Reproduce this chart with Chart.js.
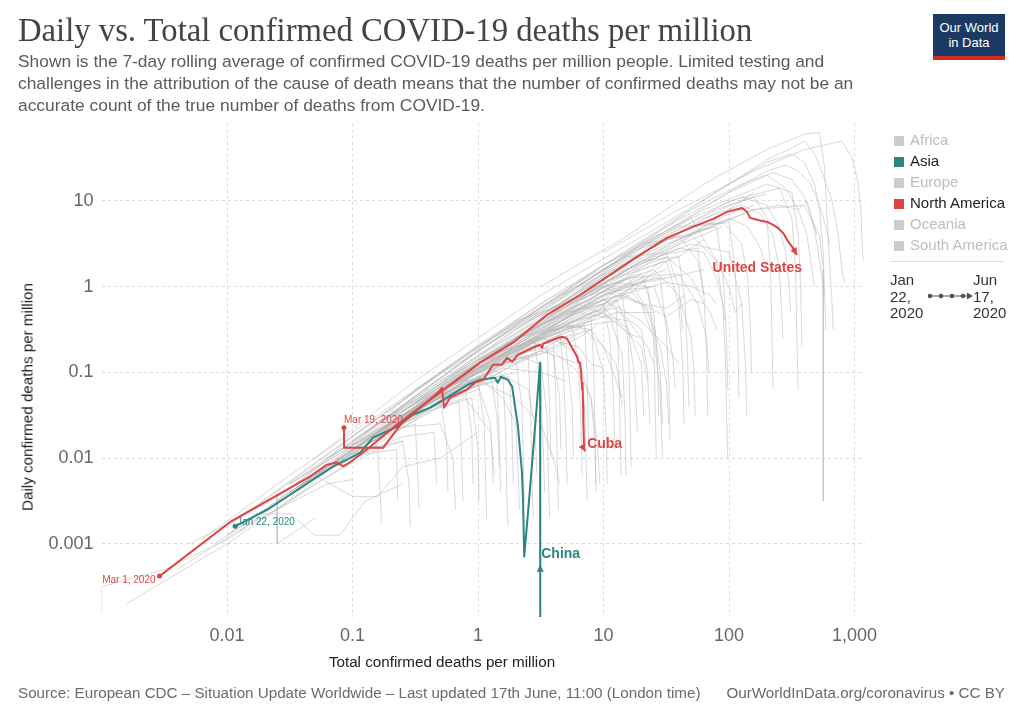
<!DOCTYPE html>
<html>
<head>
<meta charset="utf-8">
<title>Daily vs. Total confirmed COVID-19 deaths per million</title>
<script src="https://cdn.jsdelivr.net/npm/chart.js@4.4.0/dist/chart.umd.min.js"></script>
<style>
    html, body { margin: 0; padding: 0; background: #fff; }
    body { width: 1024px; height: 723px; position: relative; overflow: hidden; font-family: 'Liberation Sans', Arial, sans-serif; }
    #chart { position: absolute; left: 0; top: 0; }
    .abs { position: absolute; white-space: nowrap; }
    #title { left: 18px; top: 12px; font-family: 'Liberation Serif', serif; font-size: 32.7px; color: #444; }
    #subtitle { left: 18px; top: 50px; font-size: 17.4px; line-height: 22px; color: #5b5b5b; }
    #logo { left: 933px; top: 14px; width: 72px; height: 46px; background: #1a3a63; border-bottom: 4px solid #d42b21; box-sizing: border-box; color: #fff; font-size: 13px; line-height: 15px; text-align: center; padding-top: 6px; }
    .li { left: 894px; font-size: 15px; line-height: 18px; color: #bdbdbd; }
    .li.on { color: #222; }
    .sw { display: inline-block; width: 10px; height: 10px; margin-right: 6px; background: #ccc; vertical-align: -1px; }
    #sep { left: 890px; top: 261px; width: 114px; height: 1px; background: #ddd; }
    .tl { font-size: 15px; line-height: 16.5px; color: #333; top: 272px; }
    #xtitle { left: 0; width: 884px; top: 653px; text-align: center; font-size: 15.2px; color: #222; }
    #ytitle { left: 27px; top: 397px; font-size: 15.2px; color: #222; transform: translate(-50%, -50%) rotate(-90deg); }
    .foot { top: 684px; font-size: 15.2px; color: #6b6b6b; }
</style>
</head>
<body>
<canvas id="chart" width="1024" height="723"></canvas>

<div id="title" class="abs">Daily vs. Total confirmed COVID-19 deaths per million</div>
<div id="subtitle" class="abs">Shown is the 7-day rolling average of confirmed COVID-19 deaths per million people. Limited testing and<br>challenges in the attribution of the cause of death means that the number of confirmed deaths may not be an<br>accurate count of the true number of deaths from COVID-19.</div>
<div id="logo" class="abs">Our World<br>in Data</div>

<div class="abs li" style="top:131px"><span class="sw"></span>Africa</div>
<div class="abs li on" style="top:152px"><span class="sw" style="background:#2a8683"></span>Asia</div>
<div class="abs li" style="top:173px"><span class="sw"></span>Europe</div>
<div class="abs li on" style="top:194px"><span class="sw" style="background:#dc4545"></span>North America</div>
<div class="abs li" style="top:215px"><span class="sw"></span>Oceania</div>
<div class="abs li" style="top:236px"><span class="sw"></span>South America</div>
<div id="sep" class="abs"></div>
<div class="abs tl" style="left:890px">Jan<br>22,<br>2020</div>
<svg class="abs" style="left:926px;top:291px" width="48" height="10">
    <line x1="3" y1="5" x2="42" y2="5" stroke="#555" stroke-width="1.2"/>
    <circle cx="4" cy="5" r="2.3" fill="#555"/>
    <circle cx="15" cy="5" r="2.3" fill="#555"/>
    <circle cx="26" cy="5" r="2.3" fill="#555"/>
    <circle cx="37" cy="5" r="2.3" fill="#555"/>
    <polygon points="41,1.5 47,5 41,8.5" fill="#555"/>
</svg>
<div class="abs tl" style="left:973px">Jun<br>17,<br>2020</div>

<div id="xtitle" class="abs">Total confirmed deaths per million</div>
<div id="ytitle" class="abs">Daily confirmed deaths per million</div>

<div class="abs foot" style="left:18px">Source: European CDC – Situation Update Worldwide – Last updated 17th June, 11:00 (London time)</div>
<div class="abs foot" style="right:19px">OurWorldInData.org/coronavirus • CC BY</div>

<script>
// --- Axis ticks ---
const X_TICKS = [0.01, 0.1, 1, 10, 100, 1000];
const X_TICK_LABELS = ['0.01', '0.1', '1', '10', '100', '1,000'];
const Y_TICKS = [0.001, 0.01, 0.1, 1, 10];
const Y_TICK_LABELS = ['0.001', '0.01', '0.1', '1', '10'];

// --- Highlighted countries: [total deaths per million, daily deaths per million] ---
const US_SERIES = [
    [0.0029, 0.00042], [0.0106, 0.0018], [0.0458, 0.0061], [0.0627, 0.0084], [0.0752, 0.0089],
    [0.084, 0.0080], [0.0955, 0.0089], [0.138, 0.0136], [0.226, 0.0246], [0.303, 0.0339],
    [1.04, 0.130], [1.90, 0.222], [3.55, 0.47], [6.5, 0.80], [11.9, 1.45], [19.5, 2.35],
    [32, 3.72], [51.6, 4.99], [74.6, 6.18], [96.4, 7.46], [127, 8.3], [139, 7.46], [147, 6.35],
    [170, 6.0], [201, 5.7], [224, 5.26], [245, 4.85], [269, 4.25], [290, 3.52], [318, 2.92], [348, 2.35]
];
const CUBA_SERIES = [
    [0.0855, 0.0226], [0.0855, 0.0132], [0.175, 0.0132], [0.252, 0.0266], [0.48, 0.058],
    [0.516, 0.066], [0.536, 0.0388], [0.598, 0.0507], [0.817, 0.063], [0.946, 0.076], [1.10, 0.082],
    [1.32, 0.123], [1.55, 0.123], [1.70, 0.148], [1.87, 0.133], [2.08, 0.161], [2.74, 0.194],
    [3.12, 0.21], [3.24, 0.194], [3.30, 0.216], [4.34, 0.254], [4.75, 0.26], [5.12, 0.247],
    [5.61, 0.194], [6.15, 0.152], [6.27, 0.133], [6.5, 0.13], [6.62, 0.102], [6.75, 0.063],
    [6.8, 0.075], [6.87, 0.04], [6.9, 0.028], [7.0, 0.0126], [7.13, 0.012]
];
const CHINA_SERIES = [
    [0.0116, 0.0016], [0.0209, 0.0025], [0.0484, 0.0056], [0.070, 0.008], [0.0904, 0.0096],
    [0.115, 0.0116], [0.146, 0.0173], [0.226, 0.0233], [0.303, 0.0321], [0.415, 0.0388],
    [0.566, 0.0507], [0.832, 0.072], [1.04, 0.082], [1.36, 0.0867], [1.44, 0.076], [1.52, 0.089],
    [1.73, 0.082], [1.87, 0.068], [1.97, 0.04], [2.08, 0.0233], [2.24, 0.0067], [2.29, 0.0027],
    [2.33, 0.00071], [2.5, 0.0023], [2.74, 0.0116], [2.95, 0.0444], [3.12, 0.13],
    [3.13, 0.00003], [3.13, 0.00057]
];

// --- All other countries (grey background lines) ---
const GRAY_SERIES = [
    [[0.1, 0.0141], [0.316, 0.063], [1, 0.209], [3.16, 0.63], [10, 1.78], [31.6, 5.25], [100, 15.8], [200, 30.2], [316, 41.7], [398, 50.1], [479, 35.5], [562, 20], [661, 10], [741, 3.98], [794, 1.58], [832, 1.12]],
    [[0.0316, 0.00447], [0.1, 0.0158], [1, 0.178], [10, 1.58], [31.6, 4.47], [100, 12.6], [200, 22.4], [282, 26.3], [355, 22.4], [447, 15.8], [525, 8.91], [603, 4.47], [631, 3.16]],
    [[0.05, 0.01], [0.316, 0.0794], [3.16, 0.794], [31.6, 5.62], [100, 15.8], [200, 28.2], [316, 35.5], [398, 28.2], [479, 15.8], [525, 7.94], [562, 2.51], [575, 1], [589, 0.316]],
    [[0.0158, 0.00251], [0.1, 0.0178], [1, 0.2], [10, 1.58], [50.1, 7.94], [126, 15.8], [224, 21.4], [316, 17.8], [398, 11.2], [457, 6.31], [501, 3.16], [550, 1.26], [575, 0.794]],
    [[0.00631, 0.00112], [0.0316, 0.00631], [0.316, 0.063], [3.16, 0.631], [31.6, 5.01], [100, 12.6], [200, 20], [282, 14.1], [355, 7.94], [417, 3.98], [457, 1.58], [479, 1]],
    [[0.063, 0.01], [1, 0.126], [10, 1.12], [50.1, 3.98], [158, 7.94], [251, 8.91], [355, 7.94], [417, 10], [468, 5.62], [501, 3.98]],
    [[0.1, 0.0158], [1, 0.178], [10, 1.58], [50.1, 6.31], [126, 11.2], [200, 8.91], [251, 5.01], [282, 2.51], [302, 1], [309, 0.5]],
    [[0.251, 0.0355], [2, 0.316], [15.8, 2], [63.1, 6.31], [126, 8.91], [178, 7.08], [224, 3.98], [251, 1.58], [263, 0.5], [269, 0.251]],
    [[0.158, 0.0251], [1.58, 0.282], [10, 1.78], [39.8, 5.01], [89.1, 5.62], [126, 3.16], [141, 1.26], [148, 0.316], [151, 0.1]],
    [[10, 2.51], [39.8, 7.94], [158, 22.4], [398, 39.8], [794, 50.1], [955, 31.6], [1072, 15.8], [1122, 7.94], [1148, 3.16], [1175, 2]],
    [[3.16, 1], [15.8, 3.98], [63.1, 15.8], [200, 39.8], [398, 60.3], [525, 63.1], [575, 25.1], [603, 6.31], [631, 2], [661, 0.631], [676, 0.316]],
    [[6.31, 1], [31.6, 3.16], [158, 7.94], [398, 8.91], [525, 3.98], [562, 1.58], [562, 0.316], [562, 0.0316], [562, 0.00316]],
    [[0.0316, 0.00316], [0.316, 0.0447], [3.16, 0.398], [15.8, 1.58], [39.8, 2.82], [63.1, 2.51], [79.4, 1.26], [89.1, 0.631], [93.3, 0.398]],
    [[0.1, 0.0158], [1, 0.141], [10, 1.26], [39.8, 3.55], [100, 6.31], [141, 5.01], [178, 2.82], [200, 1.58]],
    [[0.0316, 0.00501], [0.316, 0.0501], [3.16, 0.447], [15.8, 2], [50.1, 5.01], [100, 8.91], [158, 11.2], [200, 12]],
    [[0.158, 0.02], [1, 0.126], [10, 1.12], [39.8, 3.55], [100, 7.08], [158, 8.91]],
    [[0.063, 0.00794], [1, 0.0794], [10, 0.891], [39.8, 3.16], [100, 7.94], [158, 12.6]],
    [[0.0158, 0.002], [0.316, 0.0398], [3.16, 0.398], [20, 2], [50.1, 3.55], [89.1, 5.01]],
    [[0.1, 0.0158], [1, 0.158], [10, 1.12], [31.6, 2.24], [50.1, 1.26], [63.1, 0.631], [70.8, 0.5], [79.4, 0.316]],
    [[0.126, 0.02], [1, 0.141], [10, 1], [25.1, 1.58], [39.8, 0.794], [50.1, 0.251], [52.5, 0.1], [53.7, 0.0316]],
    [[0.2, 0.0251], [2, 0.251], [15.8, 1.26], [39.8, 1.41], [56.2, 0.631], [66.1, 0.251], [69.2, 0.1]],
    [[0.0794, 0.01], [1, 0.1], [10, 0.708], [31.6, 1.12], [50.1, 1], [70.8, 0.794], [79.4, 0.631]],
    [[0.126, 0.0158], [2, 0.251], [20, 3.16], [50.1, 6.31], [79.4, 2], [100, 1], [112, 0.5], [126, 0.631]],
    [[0.01, 0.00126], [0.1, 0.0112], [1, 0.1], [10, 0.794], [20, 1.26], [31.6, 1.58]],
    [[0.001, 0.000158], [0.001, 0.000316], [0.00316, 0.0005], [0.01, 0.00112], [0.0316, 0.00316], [0.316, 0.0282], [2, 0.126], [6.31, 0.251], [8.91, 0.355]],
    [[0.0316, 0.00398], [0.316, 0.0398], [1.58, 0.112], [3.16, 0.1], [3.98, 0.0891], [5.01, 0.0794]],
    [[0.01, 0.00126], [0.1, 0.0126], [0.631, 0.0631], [3.16, 0.178], [6.31, 0.126], [7.94, 0.0501], [8.51, 0.0158], [8.71, 0.00501]],
    [[0.251, 0.0316], [1, 0.0794], [2, 0.0501], [3.16, 0.0251], [3.98, 0.01], [4.47, 0.00501]],
    [[0.316, 0.0631], [3.16, 0.5], [10, 1], [20, 0.631], [31.6, 0.447], [50.1, 0.708], [63.1, 0.631]],
    [[0.0631, 0.00794], [1, 0.126], [6.31, 0.5], [15.8, 0.398], [22.4, 0.2], [25.1, 0.126]],
    [[0.631, 0.1], [3.98, 0.631], [20, 3.16], [50.1, 3.98], [79.4, 2], [89.1, 0.631], [93.3, 0.158], [95.5, 0.0316], [97.7, 0.01]],
    [[1, 0.141], [6.31, 0.631], [15.8, 1], [22.4, 0.5], [28.2, 0.2], [31.6, 0.0794], [33.1, 0.0251]],
    [[0.5, 0.0708], [3.16, 0.355], [12.6, 0.891], [25.1, 1], [31.6, 0.398], [35.5, 0.158], [37.2, 0.0631]],
    [[0.316, 0.0447], [2.51, 0.316], [10, 0.708], [20, 0.316], [22.4, 0.1], [23.4, 0.0251]],
    [[0.0631, 0.00794], [0.631, 0.0631], [2, 0.141], [3.98, 0.2], [6.31, 0.282]],
    [[0.0501, 0.00631], [0.5, 0.0631], [3.16, 0.251], [7.94, 0.5], [12.6, 0.794]],
    [[0.0316, 0.00398], [0.316, 0.0316], [2, 0.126], [6.31, 0.316], [11.2, 0.708]],
    [[0.0251, 0.00355], [0.316, 0.0398], [1.58, 0.126], [3.98, 0.251], [7.08, 0.355]],
    [[0.00794, 0.001], [0.1, 0.0112], [1, 0.1], [3.16, 0.224], [5.62, 0.316]],
    [[0.158, 0.02], [1, 0.112], [3.98, 0.282], [10, 0.5], [15.8, 0.891]],
    [[0.126, 0.02], [1, 0.141], [3.16, 0.251], [6.31, 0.2], [7.94, 0.126], [10, 0.112]],
    [[0.1, 0.0126], [1, 0.112], [3.98, 0.178], [6.31, 0.1], [7.94, 0.0501], [8.91, 0.0158], [9.33, 0.00501]],
    [[0.0316, 0.00501], [0.316, 0.0398], [1, 0.0891], [1.58, 0.0501], [2, 0.0251], [2.09, 0.00631], [2.14, 0.00251]],
    [[0.316, 0.0447], [1.26, 0.112], [2.51, 0.0631], [2.82, 0.0251], [2.95, 0.00631]],
    [[0.126, 0.0178], [1.58, 0.2], [10, 0.708], [20, 0.398], [31.6, 0.2], [39.8, 0.126]],
    [[0.0316, 0.00398], [0.398, 0.0501], [3.16, 0.251], [12.6, 0.5], [25.1, 0.5]],
    [[0.126, 0.0158], [1, 0.126], [6.31, 0.355], [10, 0.2], [12.6, 0.0794], [14.1, 0.0501]],
    [[0.5, 0.0794], [5.01, 0.5], [20, 1.58], [39.8, 2.24], [63.1, 3.55]],
    [[0.2, 0.0316], [2, 0.398], [10, 0.891], [20, 0.631], [31.6, 0.562], [44.7, 0.794]],
    [[0.158, 0.02], [1.58, 0.178], [10, 0.891], [31.6, 1.26], [63.1, 1.58]],
    [[0.158, 0.0251], [1, 0.1], [5.01, 0.355], [15.8, 0.794], [31.6, 2]],
    [[0.0126, 0.00141], [0.1, 0.0126], [1, 0.112], [3.16, 0.316], [6.31, 0.562]],
    [[0.00158, 0.0002], [0.01, 0.001], [0.0501, 0.00501], [0.158, 0.0126], [0.251, 0.0158]],
    [[0.00398, 0.0005], [0.0158, 0.00178], [0.0631, 0.00501], [0.1, 0.00562]],
    [[0.0251, 0.00251], [0.1, 0.0141], [0.5, 0.0447], [1, 0.0631]],
    [[0.0316, 0.00447], [0.2, 0.0224], [0.5, 0.0251], [0.631, 0.01], [0.661, 0.00251]],
    [[2.51, 0.398], [10, 1.12], [20, 0.631], [25.1, 0.251], [28.2, 0.0631], [29.5, 0.01]],
    [[0.5, 0.0631], [3.98, 0.316], [12.6, 0.398], [20, 0.2], [22.4, 0.0794]],
    [[0.158, 0.02], [2, 0.2], [10, 0.562], [15.8, 0.316], [20, 0.126], [20.9, 0.0316]],
    [[0.316, 0.0447], [3.16, 0.355], [15.8, 1.26], [25.1, 0.398], [28.2, 0.1], [29.5, 0.0251]],
    [[0.158, 0.02], [1.58, 0.158], [7.94, 0.316], [12.6, 0.126], [14.1, 0.0398]],
    [[0.0316, 0.00501], [0.251, 0.0316], [0.794, 0.0501], [1.26, 0.02], [1.35, 0.00631]],
    [[0.0316, 0.00398], [0.251, 0.0316], [1, 0.0794], [2, 0.1]],
    [[0.2, 0.0251], [2, 0.251], [10, 0.5], [15.8, 0.282], [20, 0.251]],
    [[0.251, 0.0316], [2, 0.251], [7.94, 0.398], [20, 1.26], [31.6, 2.24]],
    [[0.158, 0.0251], [1.58, 0.158], [10, 0.794], [25.1, 1.26], [31.6, 1.26]],
    [[0.631, 0.0794], [3.16, 0.282], [10, 0.631], [22.4, 1.26]],
    [[0.316, 0.0398], [2.51, 0.251], [10, 0.708], [20, 1.41]],
    [[0.1, 0.0126], [0.5, 0.0631], [2, 0.158], [3.16, 0.126], [3.55, 0.0316], [3.63, 0.00631], [3.72, 0.002]],
    [[0.316, 0.0316], [1.58, 0.126], [3.98, 0.251], [6.31, 0.158], [7.08, 0.0398], [7.24, 0.01], [7.41, 0.00316]],
    [[1.58, 0.158], [5.01, 0.355], [7.94, 0.316], [10, 0.1], [10.5, 0.02], [10.7, 0.00501]],
    [[0.631, 0.0891], [2.51, 0.251], [3.98, 0.158], [4.47, 0.0501], [4.57, 0.0126]],
    [[2, 0.251], [6.31, 0.631], [11.2, 0.447], [14.1, 0.158], [14.8, 0.0316], [15.1, 0.00631]],
    [[0.5, 0.0501], [1, 0.0708], [1.26, 0.0251], [1.32, 0.00501]],
    [[3.16, 0.398], [12.6, 1.26], [31.6, 2], [39.8, 0.631], [42.7, 0.126], [43.7, 0.0251]],
    [[3.16, 0.447], [20, 2.82], [79.4, 7.94], [158, 11.2], [200, 6.31], [214, 1.58], [219, 0.316], [224, 0.0631]],
    [[1, 0.178], [10, 1.78], [63.1, 7.94], [200, 15.8], [316, 12.6], [355, 3.98], [372, 1], [380, 0.2]],
    [[0.0158, 0.00224], [0.0316, 0.00224], [0.0501, 0.00126], [0.0794, 0.00126], [0.126, 0.00316], [0.251, 0.00501]],
    [[0.0501, 0.00631], [0.1, 0.00355], [0.158, 0.00355], [0.251, 0.00794], [0.5, 0.01], [1, 0.02]],
    [[0.005, 0.001], [0.0126, 0.002], [0.0251, 0.00355], [0.0251, 0.001], [0.0501, 0.002]],
    [[2, 0.316], [10, 1.26], [50.1, 3.16], [100, 2.51], [126, 0.631], [135, 0.126], [138, 0.0316]],
    [[3.98, 0.631], [25.1, 3.16], [100, 10], [251, 14.1], [316, 6.31], [339, 1.58], [347, 0.251], [355, 0.0631]],
    [[0.0631, 0.01], [0.251, 0.0316], [0.5, 0.0501], [0.562, 0.0158], [0.575, 0.00398]],
    [[0.126, 0.0158], [0.398, 0.0447], [1, 0.0794], [1.12, 0.0251], [1.15, 0.00501], [1.17, 0.002]],
    [[0.251, 0.0282], [1, 0.1], [2, 0.141], [2.24, 0.0398], [2.29, 0.01], [2.34, 0.00316]],
    [[0.398, 0.0501], [1.58, 0.178], [2.82, 0.224], [3.16, 0.0631], [3.31, 0.0126], [3.39, 0.00398]],
    [[1, 0.112], [3.16, 0.282], [5.62, 0.355], [6.31, 0.126], [6.61, 0.0251], [6.76, 0.00631]],
    [[1.58, 0.2], [5.01, 0.5], [10, 0.631], [11.2, 0.251], [12, 0.0501], [12.3, 0.0126]],
    [[0.158, 0.02], [0.631, 0.0631], [1.26, 0.1], [1.41, 0.0316], [1.48, 0.00794]],
    [[0.5, 0.0631], [2, 0.2], [3.98, 0.316], [5.01, 0.2], [5.62, 0.0398], [5.75, 0.01]],
    [[2, 0.224], [6.31, 0.5], [12.6, 0.708], [15.8, 0.316], [17.8, 0.0794], [18.6, 0.02]],
    [[3.16, 0.355], [10, 1], [20, 1.41], [25.1, 0.5], [26.9, 0.126], [27.5, 0.0316]],
    [[0.1, 0.0141], [0.316, 0.0355], [0.794, 0.0631], [0.891, 0.02], [0.912, 0.00501]],
    [[0.631, 0.0794], [2.51, 0.224], [4.47, 0.316], [4.79, 0.1], [5.01, 0.02], [5.13, 0.00501]],
    [[3.98, 0.5], [12.6, 1.12], [22.4, 1], [25.1, 0.251], [25.7, 0.0501], [26.3, 0.01]],
    [[6.31, 0.708], [20, 2], [39.8, 2.24], [44.7, 0.631], [46.8, 0.126], [47.9, 0.0398]],
    [[10, 1.26], [31.6, 3.55], [79.4, 5.01], [89.1, 1.58], [95.5, 0.251], [97.7, 0.0631]],
    [[0.2, 0.0251], [0.794, 0.0794], [1.58, 0.0891], [1.66, 0.02], [1.7, 0.00316], [1.74, 0.00158]],
    [[1.26, 0.141], [3.98, 0.316], [7.94, 0.447], [8.32, 0.126], [8.51, 0.0251], [8.71, 0.00398]],
    [[15.8, 2], [50.1, 5.01], [100, 5.62], [112, 1.58], [117, 0.251], [120, 0.0501]],
    [[0.0398, 0.00501], [0.126, 0.0126], [0.251, 0.0158], [0.282, 0.00501], [0.288, 0.00158]],
    [[2.51, 0.282], [7.94, 0.631], [14.1, 0.794], [15.8, 0.2], [16.2, 0.0398], [16.6, 0.00794]],
    [[0.0251, 0.00316], [0.1, 0.0178], [1, 0.2], [6.31, 1.12], [20, 2.82], [39.8, 3.98], [56.2, 2], [63.1, 0.794]],
    [[0.01, 0.00158], [0.0631, 0.0112], [0.5, 0.1], [3.98, 0.708], [15.8, 2.24], [31.6, 2.51], [39.8, 1], [42.7, 0.316]],
    [[0.0316, 0.00447], [0.1, 0.0112], [0.158, 0.0141], [0.166, 0.00398], [0.17, 0.00178]],
    [[0.0631, 0.00794], [0.2, 0.02], [0.316, 0.0251], [0.331, 0.00631], [0.339, 0.00251]],
    [[0.126, 0.0141], [0.398, 0.0355], [0.708, 0.0447], [0.741, 0.01], [0.759, 0.00316]],
    [[0.251, 0.0251], [0.794, 0.0631], [1.41, 0.0794], [1.48, 0.0158], [1.51, 0.00398]],
    [[0.5, 0.0501], [1.58, 0.126], [2.51, 0.158], [2.63, 0.0316], [2.69, 0.00631], [2.75, 0.002]],
    [[0.1, 0.01], [0.251, 0.0178], [0.447, 0.02], [0.468, 0.00501]],
    [[1, 0.1], [2.51, 0.2], [3.98, 0.224], [4.17, 0.0501], [4.27, 0.01], [4.37, 0.00251]],
    [[0.158, 0.0158], [0.5, 0.0398], [0.891, 0.0501], [1, 0.0126], [1.02, 0.00316]],
    [[2, 0.178], [5.01, 0.316], [7.08, 0.355], [7.41, 0.0794], [7.59, 0.0158]],
    [[3.16, 0.282], [7.94, 0.5], [12.6, 0.562], [13.2, 0.126], [13.5, 0.0251], [13.8, 0.00631]],
    [[0.0501, 0.00631], [0.126, 0.0112], [0.224, 0.0126], [0.229, 0.00316]],
    [[0.316, 0.0316], [1, 0.0708], [1.78, 0.0891], [1.86, 0.0251], [1.91, 0.00501]],
    [[5.01, 0.447], [12.6, 1], [28.2, 1.26], [31.6, 0.316], [33.1, 0.0794], [33.9, 0.0158]],
    [[7.94, 0.794], [25.1, 2.24], [56.2, 2.82], [63.1, 0.794], [66.1, 0.158], [67.6, 0.0316]],
    [[0.631, 0.0708], [2, 0.158], [3.55, 0.2], [3.72, 0.0398], [3.8, 0.01]]
];

const RED = '#dc4545';
const TEAL = '#2a8683';
const GREY = 'rgba(180, 180, 180, 0.5)';

const toPoints = s => s.map(p => ({ x: p[0], y: p[1] }));

// label placement for the highlighted lines (style only)
const HIGHLIGHTS = [
    { color: RED, start: { text: 'Mar 1, 2020', align: 'right', dx: -4, dy: 4 }, end: { text: 'United States', align: 'right', dx: 5, dy: 13 } },
    { color: RED, start: { text: 'Mar 19, 2020', align: 'left', dx: 0, dy: -8 }, end: { text: 'Cuba', align: 'left', dx: 2, dy: -7 } },
    { color: TEAL, start: { text: 'Jan 22, 2020', align: 'left', dx: 2, dy: -4 }, end: { text: 'China', align: 'left', dx: 1, dy: -11 } }
];

const datasets = [
    { data: toPoints(US_SERIES), borderColor: RED, borderWidth: 2, order: 0 },
    { data: toPoints(CUBA_SERIES), borderColor: RED, borderWidth: 2, order: 0 },
    { data: toPoints(CHINA_SERIES), borderColor: TEAL, borderWidth: 2, order: 0 }
];
GRAY_SERIES.forEach(s => {
    datasets.push({ data: toPoints(s), borderColor: GREY, borderWidth: 1, order: 1 });
});

// --- Start dots, end arrows and country labels ---
const annotations = {
    id: 'annotations',
    afterDatasetsDraw(chart) {
        const ctx = chart.ctx;
        ctx.save();
        HIGHLIGHTS.forEach((h, i) => {
            const pts = chart.getDatasetMeta(i).data;
            const first = pts[0], last = pts[pts.length - 1], prev = pts[pts.length - 2];
            ctx.fillStyle = h.color;

            ctx.beginPath();
            ctx.arc(first.x, first.y, 2.5, 0, Math.PI * 2);
            ctx.fill();

            const a = Math.atan2(last.y - prev.y, last.x - prev.x);
            const L = 7, W = 3.5;
            ctx.beginPath();
            ctx.moveTo(last.x, last.y);
            ctx.lineTo(last.x - L * Math.cos(a) + W * Math.sin(a), last.y - L * Math.sin(a) - W * Math.cos(a));
            ctx.lineTo(last.x - L * Math.cos(a) - W * Math.sin(a), last.y - L * Math.sin(a) + W * Math.cos(a));
            ctx.closePath();
            ctx.fill();

            ctx.textBaseline = 'middle';
            ctx.font = "10px 'Liberation Sans', Arial, sans-serif";
            ctx.textAlign = h.start.align;
            ctx.fillText(h.start.text, first.x + h.start.dx, first.y + h.start.dy);

            ctx.font = "bold 14px 'Liberation Sans', Arial, sans-serif";
            ctx.textAlign = h.end.align;
            ctx.fillText(h.end.text, last.x + h.end.dx, last.y + h.end.dy);
        });
        ctx.restore();
    }
};

const tickFont = { family: "'Liberation Sans', Arial, sans-serif", size: 18 };

new Chart(document.getElementById('chart'), {
    type: 'line',
    data: { datasets },
    options: {
        responsive: false,
        animation: false,
        devicePixelRatio: 1,
        layout: { padding: { left: 0, right: 159, top: 123.6, bottom: 66 } },
        elements: {
            point: { radius: 0, hoverRadius: 0 },
            line: { tension: 0, fill: false, borderJoinStyle: 'round' }
        },
        plugins: { legend: { display: false }, tooltip: { enabled: false } },
        events: [],
        scales: {
            x: {
                type: 'logarithmic',
                min: 0.001,
                max: 1210,
                afterBuildTicks: s => { s.ticks = X_TICKS.map(v => ({ value: v })); },
                afterFit: s => { s.height = 40; },
                ticks: { callback: (v, i) => X_TICK_LABELS[i], color: '#666', font: tickFont, padding: 8, maxRotation: 0, autoSkip: false },
                grid: { color: '#dcdcdc', lineWidth: 1, drawTicks: false },
                border: { display: false, dash: [3, 3] }
            },
            y: {
                type: 'logarithmic',
                min: 0.00014,
                max: 80,
                afterBuildTicks: s => { s.ticks = Y_TICKS.map(v => ({ value: v })); },
                afterFit: s => { s.width = 101.5; },
                ticks: { callback: (v, i) => Y_TICK_LABELS[i], color: '#666', font: tickFont, padding: 8, autoSkip: false },
                grid: { color: '#dcdcdc', lineWidth: 1, drawTicks: false },
                border: { display: false, dash: [3, 3] }
            }
        }
    },
    plugins: [annotations]
});
</script>
</body>
</html>
